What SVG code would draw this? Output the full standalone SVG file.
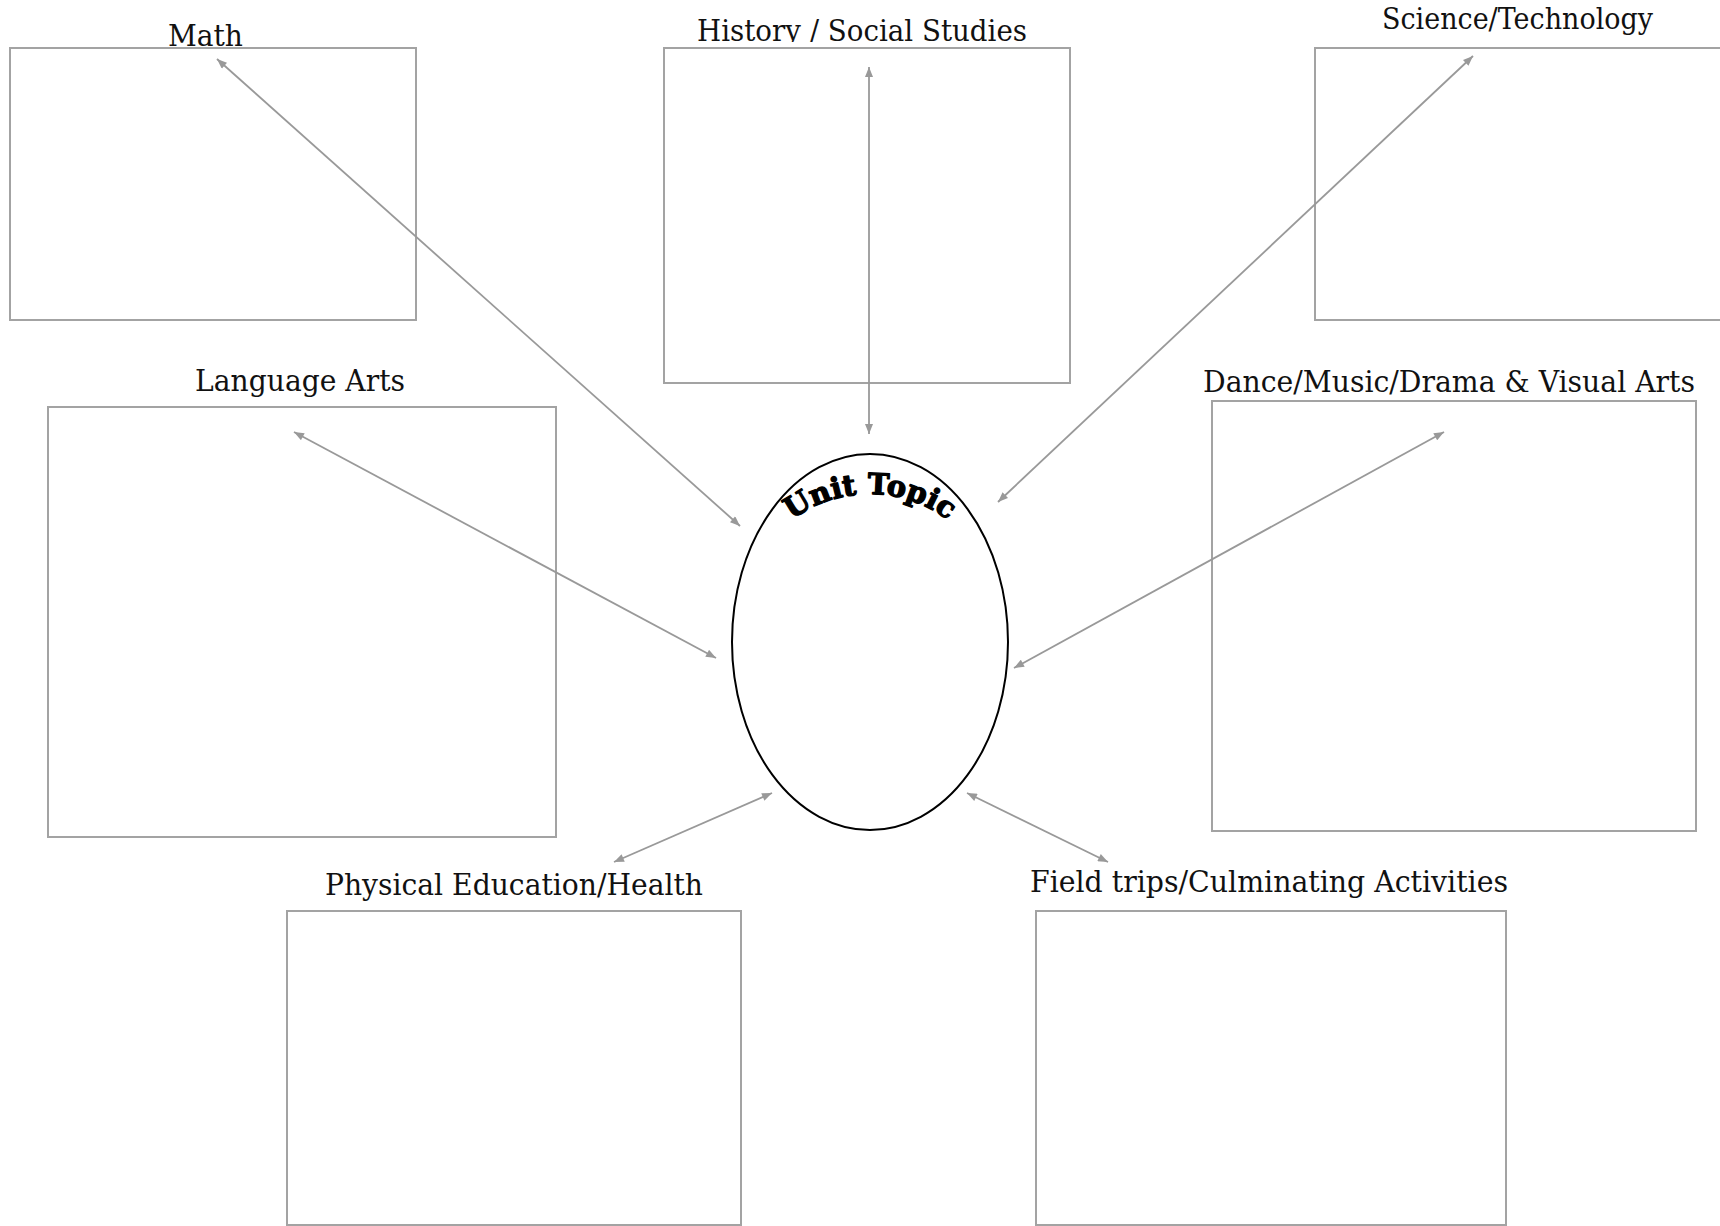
<svg xmlns="http://www.w3.org/2000/svg" width="1720" height="1226" viewBox="0 0 1720 1226">
<style>
.box{fill:none;stroke:#a3a3a3;stroke-width:2}
.lbl{font-family:"DejaVu Serif","Liberation Serif",serif;font-size:29px;fill:#111}
.conn{stroke:#999;stroke-width:1.8;fill:none;marker-start:url(#ah);marker-end:url(#ah)}
.topic{font-family:"DejaVu Serif","Liberation Serif",serif;font-weight:bold;font-size:29px;fill:#000;stroke:#000;stroke-width:1.3;stroke-linejoin:round}
</style>
<defs>
<marker id="ah" viewBox="0 0 10 8" refX="10" refY="4" markerWidth="11" markerHeight="8" markerUnits="userSpaceOnUse" orient="auto-start-reverse">
<path d="M0,0 L10,4 L0,8 z" fill="#999"/>
</marker>
<clipPath id="histclip"><rect x="600" y="0" width="500" height="42"/></clipPath>
<path id="arc" d="M740,624 A130,130 0 0 1 1000,624"/>
</defs>
<rect width="1720" height="1226" fill="#fff"/>
<g id="math">
<rect class="box" x="10" y="48" width="406" height="272"/>
<text class="lbl" x="168" y="46" textLength="75" lengthAdjust="spacingAndGlyphs">Math</text>
</g>
<g id="history">
<rect class="box" x="664" y="48" width="406" height="335"/>
<text class="lbl" x="697" y="41" textLength="330" lengthAdjust="spacingAndGlyphs" clip-path="url(#histclip)">History / Social Studies</text>
</g>
<g id="science">
<rect class="box" x="1315" y="48" width="420" height="272"/>
<text class="lbl" x="1382" y="29" textLength="271" lengthAdjust="spacingAndGlyphs">Science/Technology</text>
</g>
<g id="language">
<rect class="box" x="48" y="407" width="508" height="430"/>
<text class="lbl" x="195" y="391" textLength="210" lengthAdjust="spacingAndGlyphs">Language Arts</text>
</g>
<g id="arts">
<rect class="box" x="1212" y="401" width="484" height="430"/>
<text class="lbl" x="1203" y="392" textLength="492" lengthAdjust="spacingAndGlyphs">Dance/Music/Drama &amp; Visual Arts</text>
</g>
<g id="pe">
<rect class="box" x="287" y="911" width="454" height="314"/>
<text class="lbl" x="325" y="895" textLength="378" lengthAdjust="spacingAndGlyphs">Physical Education/Health</text>
</g>
<g id="fieldtrips">
<rect class="box" x="1036" y="911" width="470" height="314"/>
<text class="lbl" x="1030" y="892" textLength="478" lengthAdjust="spacingAndGlyphs">Field trips/Culminating Activities</text>
</g>
<g id="unit-topic">
<ellipse cx="870" cy="642" rx="138" ry="188" fill="#fff" stroke="#000" stroke-width="2"/>
<text class="topic"><textPath href="#arc" startOffset="50%" text-anchor="middle">Unit Topic</textPath></text>
</g>
<g id="connectors">
<line class="conn" x1="217" y1="59" x2="740" y2="526"/>
<line class="conn" x1="869" y1="67" x2="869" y2="434"/>
<line class="conn" x1="1473" y1="56" x2="998" y2="502"/>
<line class="conn" x1="294" y1="432" x2="716" y2="658"/>
<line class="conn" x1="1444" y1="432" x2="1014" y2="668"/>
<line class="conn" x1="614" y1="862" x2="772" y2="793"/>
<line class="conn" x1="1108" y1="862" x2="967" y2="793"/>
</g>
</svg>
